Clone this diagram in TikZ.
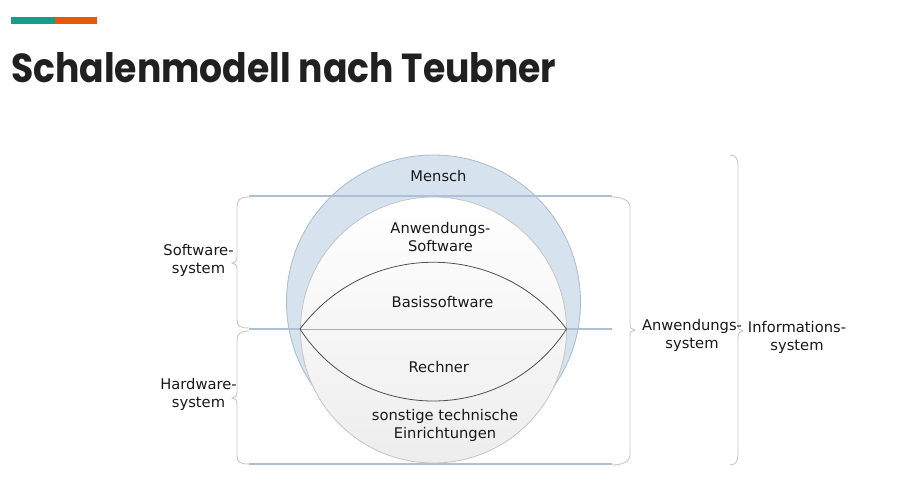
\documentclass[tikz,border=0pt]{standalone}
\usepackage{fontspec}
\setmainfont{DejaVu Sans}
\newfontfamily\titlefont{Poppins}
\definecolor{barteal}{RGB}{26,154,136}
\definecolor{barorange}{RGB}{232,88,12}
\definecolor{ringfill}{RGB}{214,227,238}
\definecolor{ringedge}{RGB}{170,186,202}
\definecolor{layerline}{RGB}{172,192,214}
\definecolor{bracegray}{RGB}{200,200,200}
\definecolor{inneredge}{RGB}{196,196,196}
\definecolor{lensline}{RGB}{80,80,80}
\definecolor{titlecol}{RGB}{32,32,32}
\tikzset{
  lbl/.style={font=\fontsize{14.7pt}{18pt}\selectfont, align=center, inner sep=0pt, text=black!90},
  layer/.style={draw=layerline, line width=2.2pt},
  bracepath/.style={draw=bracegray, line width=0.9pt},
  lens/.style={draw=lensline, line width=0.8pt},
}
\begin{document}
\begin{tikzpicture}[x=1pt,y=-1pt]
\useasboundingbox (0,0) rectangle (917,486);
\fill[white] (0,0) rectangle (917,486);
% header bars
\fill[barteal] (11,17) rectangle (55,24);
\fill[barorange] (55,17) rectangle (97,24);
\node[anchor=base west, inner sep=0pt, text=titlecol] (title) at (11,83)
  {\resizebox{545pt}{30pt}{\titlefont\bfseries Schalenmodell nach Teubner}};
% outer shell
\draw[fill=ringfill, draw=ringedge, line width=0.8pt] (433.5,302) circle[radius=147];
% middle layer line (behind inner circle)
\draw[layer] (249,329) -- (612,329);
% inner circle
\draw[top color=white, bottom color=black!7, draw=inneredge, line width=0.8pt] (433.5,330) circle[radius=133];
% top and bottom layer lines
\draw[layer] (249,196) -- (612,196);
\draw[layer] (249,464) -- (612,464);
% lens
\coordinate (lensL) at (300,329);
\coordinate (lensR) at (566.5,329);
\draw[draw=gray!65, line width=0.8pt] (lensL) -- (lensR);
\draw[lens] (lensL) .. controls (367,240) and (499.5,240) .. (lensR);
\draw[lens] (lensL) .. controls (362,425) and (504.5,425) .. (lensR);
% texts inside
\node[lbl] (mensch) at (438.5,176) {Mensch};
\node[lbl] (anwsw) at (440.5,236.8) {Anwendungs-\\Software};
\node[lbl] (basis) at (442.5,302) {Basissoftware};
\node[lbl] (rechner) at (438.8,366.7) {Rechner};
\node[lbl] (sonstige) at (445,425.5) {sonstige technische\\Einrichtungen};
% left braces
\draw[bracepath] (249,197) .. controls (240,197) and (237,200) .. (237,207) -- (237,257)
  .. controls (237,261) and (235,263) .. (232,263) .. controls (235,263) and (237,265) .. (237,269)
  -- (237,320) .. controls (237,326) and (240,328) .. (249,328);
\draw[bracepath] (249,331) .. controls (240,331) and (237,334) .. (237,341) -- (237,392)
  .. controls (237,396) and (235,398) .. (232,398) .. controls (235,398) and (237,400) .. (237,404)
  -- (237,456) .. controls (237,462) and (240,464) .. (249,464);
% right braces
\draw[bracepath] (612,197) .. controls (621,197) and (630,200) .. (630,207) -- (630,324)
  .. controls (630,328) and (632,330) .. (635,330) .. controls (632,330) and (630,332) .. (630,336)
  -- (630,455) .. controls (630,462) and (621,465) .. (612,465);
\draw[bracepath] (730,155) .. controls (735,155) and (738,158) .. (738,165) -- (738,325)
  .. controls (738,329) and (740,331) .. (743,331) .. controls (740,331) and (738,333) .. (738,337)
  -- (738,455) .. controls (738,462) and (735,465) .. (730,465);
% outer labels
\node[lbl] (swsys) at (198.5,260.5) {Software-\\system};
\node[lbl] (hwsys) at (198.5,394) {Hardware-\\system};
\node[lbl] (anwsys) at (692,335.5) {Anwendungs-\\system};
\node[lbl] (infosys) at (797,337.5) {Informations-\\system};
\end{tikzpicture}
\end{document}
